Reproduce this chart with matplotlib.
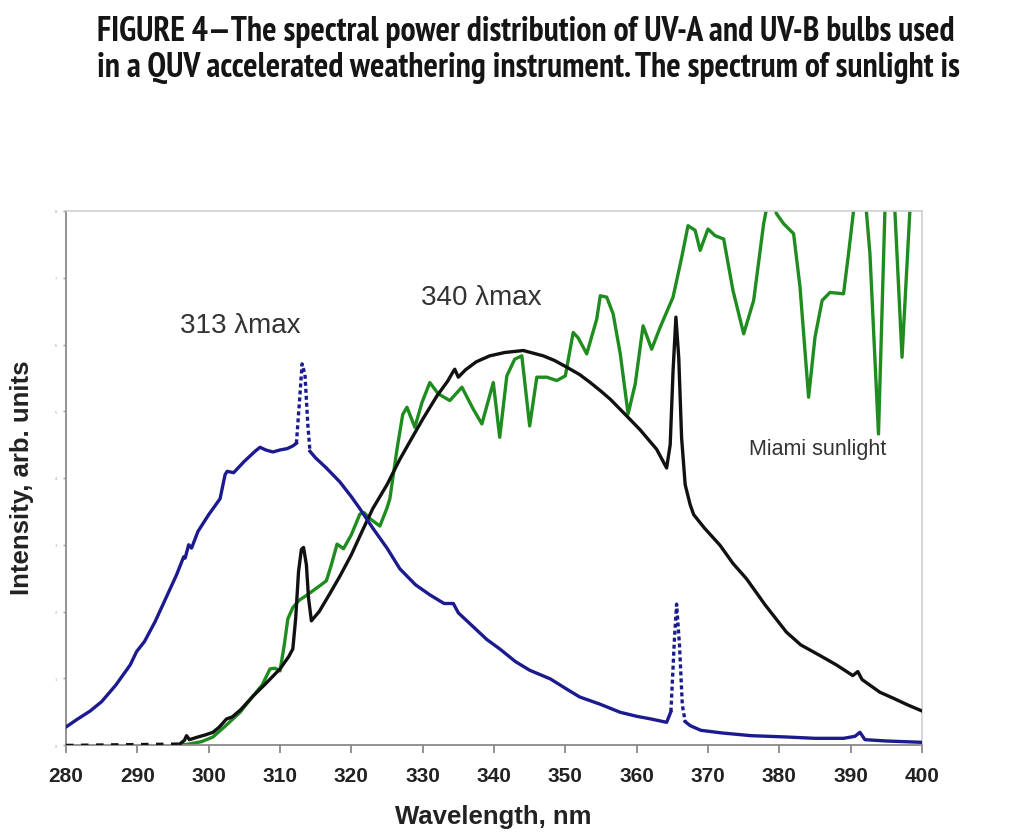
import matplotlib
matplotlib.use('Agg')
import matplotlib.pyplot as plt
from matplotlib import font_manager
from matplotlib.font_manager import FontProperties
import numpy as np

# ---------------- data ----------------
title_line1 = "FIGURE 4\u2014The spectral power distribution of UV-A and UV-B bulbs used"
title_line2 = "in a QUV accelerated weathering instrument. The spectrum of sunlight is"
x_label = "Wavelength, nm"
y_label = "Intensity, arb. units"
x_ticks = [280, 290, 300, 310, 320, 330, 340, 350, 360, 370, 380, 390, 400]
y_ticks = [0, 1, 2, 3, 4, 5, 6, 7, 8]

# UV-B bulb (313 lambda max), blue
uvb_wl = [280.0, 281.5, 283.4, 285.0, 287.0, 289.0, 289.9, 291.0, 292.5, 294.0, 295.5, 296.5,
          296.7, 297.2, 297.6, 298.5, 300.0, 301.6, 302.3, 302.6, 303.5, 305.0, 306.5, 307.2,
          308.0, 309.0, 310.0, 311.0, 311.8, 312.3, 312.7, 313.1, 313.5, 313.9, 314.2, 315.0,
          316.5, 318.4, 320.0, 321.2, 323.0, 325.0, 326.8, 329.0, 331.0, 333.0, 334.3, 335.0,
          337.0, 339.0, 340.8, 343.0, 345.0, 347.9, 350.0, 352.0, 354.9, 357.7, 360.0, 362.0,
          364.2, 364.8, 365.3, 365.6, 366.0, 366.4, 366.8, 367.5, 369.0, 372.0, 376.0, 381.0,
          385.0, 389.0, 390.6, 391.3, 392.0, 395.0, 400.0]
uvb_val = [0.27, 0.38, 0.51, 0.65, 0.90, 1.20, 1.40, 1.55, 1.85, 2.20, 2.55, 2.82,
           2.80, 3.00, 2.95, 3.20, 3.45, 3.69, 4.05, 4.10, 4.08, 4.25, 4.40, 4.46,
           4.42, 4.39, 4.42, 4.44, 4.48, 4.52, 5.10, 5.71, 5.55, 4.80, 4.40, 4.30,
           4.15, 3.94, 3.72, 3.54, 3.25, 2.95, 2.64, 2.40, 2.25, 2.12, 2.12, 1.98,
           1.78, 1.58, 1.44, 1.25, 1.12, 0.99, 0.85, 0.72, 0.61, 0.49, 0.43, 0.39,
           0.34, 0.50, 1.60, 2.11, 1.50, 0.60, 0.35, 0.29, 0.22, 0.18, 0.14, 0.12,
           0.10, 0.10, 0.13, 0.19, 0.08, 0.06, 0.04]

# UV-A bulb (340 lambda max), black
uva_wl = [280.0, 296.0, 296.6, 296.9, 297.3, 298.5, 299.5, 300.6, 301.5, 302.5, 303.3, 304.5,
          306.2, 308.0, 310.0, 311.2, 311.8, 312.2, 312.6, 313.0, 313.3, 313.7, 314.0, 314.4,
          315.5, 317.0, 318.4, 320.0, 321.5, 323.0, 325.0, 326.8, 328.5, 330.0, 332.0, 333.5,
          334.2, 334.5, 335.0, 336.0, 337.5, 339.4, 341.5, 344.1, 346.9, 348.5, 350.2, 352.0,
          353.5, 355.0, 356.3, 358.6, 360.5, 362.8, 364.2, 364.7, 365.1, 365.5, 365.9, 366.3,
          366.8, 367.5, 368.0, 369.5, 371.7, 373.5, 375.4, 378.0, 381.0, 383.0, 385.7, 388.0,
          390.3, 391.0, 391.6, 394.1, 396.0, 398.0, 400.0]
uva_val = [0.00, 0.02, 0.07, 0.14, 0.08, 0.12, 0.15, 0.19, 0.27, 0.39, 0.42, 0.53,
           0.73, 0.92, 1.14, 1.32, 1.44, 1.90, 2.60, 2.93, 2.96, 2.70, 2.20, 1.86,
           2.00, 2.27, 2.53, 2.85, 3.20, 3.54, 3.90, 4.28, 4.60, 4.88, 5.23, 5.45,
           5.58, 5.63, 5.51, 5.62, 5.74, 5.83, 5.88, 5.91, 5.83, 5.76, 5.66, 5.55,
           5.43, 5.30, 5.18, 4.93, 4.72, 4.43, 4.15, 4.50, 5.60, 6.41, 5.80, 4.60,
           3.90, 3.60, 3.45, 3.25, 2.99, 2.72, 2.49, 2.10, 1.69, 1.50, 1.34, 1.20,
           1.04, 1.10, 0.98, 0.79, 0.70, 0.60, 0.51]

# Miami sunlight, green
sun_wl = [296.0, 297.0, 299.0, 300.6, 302.5, 304.4, 306.2, 307.5, 308.6, 309.3, 310.0, 310.6,
          311.1, 311.8, 312.7, 313.7, 315.5, 316.5, 317.2, 318.0, 318.9, 320.0, 321.2, 321.8,
          322.5, 324.0, 325.0, 325.4, 326.4, 327.2, 327.8, 328.9, 329.9, 331.0, 332.2, 333.8,
          335.5, 337.1, 338.3, 339.9, 340.8, 341.8, 342.9, 343.9, 345.0, 346.0, 347.4, 348.8,
          350.0, 351.1, 351.8, 353.0, 354.4, 354.9, 355.8, 356.7, 357.7, 358.8, 359.8, 360.9,
          362.1, 363.3, 365.1, 366.3, 367.2, 368.2, 368.9, 370.0, 371.0, 372.2, 373.5, 375.0,
          376.4, 377.8, 378.2, 378.8, 379.6, 380.6, 382.0, 382.9, 384.1, 385.0, 386.0, 387.1,
          389.0, 389.7, 390.4, 391.3, 392.2, 392.7, 393.9, 394.8, 395.5, 396.2, 397.2, 398.3,
          399.2, 400.0]
sun_val = [0.00, 0.01, 0.05, 0.12, 0.30, 0.49, 0.73, 0.90, 1.14, 1.15, 1.11, 1.50,
           1.89, 2.06, 2.17, 2.24, 2.38, 2.46, 2.70, 3.01, 2.94, 3.15, 3.46, 3.48,
           3.40, 3.28, 3.55, 3.69, 4.43, 4.95, 5.06, 4.76, 5.13, 5.43, 5.26, 5.16,
           5.36, 5.03, 4.81, 5.43, 4.61, 5.53, 5.78, 5.83, 4.78, 5.51, 5.51, 5.46,
           5.53, 6.18, 6.10, 5.86, 6.38, 6.73, 6.71, 6.46, 5.86, 4.96, 5.41, 6.28,
           5.93, 6.26, 6.71, 7.30, 7.78, 7.71, 7.41, 7.73, 7.63, 7.58, 6.81, 6.16,
           6.66, 7.81, 8.03, 8.30, 7.96, 7.81, 7.66, 6.86, 5.21, 6.11, 6.66, 6.78,
           6.76, 7.36, 8.00, 8.60, 8.00, 7.36, 4.66, 8.00, 8.60, 8.00, 5.81, 8.00,
           8.80, 9.20]

annot_313 = ("313 \u03bbmax", 296.0, 6.19)
annot_340 = ("340 \u03bbmax", 329.7, 6.61)
annot_sun = ("Miami sunlight", 375.8, 4.36)

# ---------------- figure ----------------
W, H = 1024, 837
fig = plt.figure(figsize=(W / 100, H / 100), dpi=100)
fig.patch.set_facecolor('white')

ax = fig.add_axes([66 / W, 1 - 746 / H, (922 - 66) / W, (746 - 212) / H])
ax.set_xlim(280, 400)
ax.set_ylim(0, 8)

BLUE = '#1b1b8f'
GREEN = '#1f8c1f'
BLACK = '#111111'
LW = 2.4

# sunlight
ax.plot(sun_wl, sun_val, color=GREEN, lw=LW, solid_joinstyle='round', solid_capstyle='round', zorder=2)

# UV-A bulb: dashed near zero at the start, then solid
uva_wl_a = np.array(uva_wl)
uva_val_a = np.array(uva_val)
m0 = uva_wl_a <= 296.0
ax.plot(uva_wl_a[m0], uva_val_a[m0], color=BLACK, lw=1.8, ls=(0, (3, 3)), zorder=3)
m1 = uva_wl_a >= 296.0
ax.plot(uva_wl_a[m1], uva_val_a[m1], color=BLACK, lw=LW, solid_joinstyle='round', zorder=3)

# UV-B bulb: solid with dotted steep peaks
uvb_wl_a = np.array(uvb_wl)
uvb_val_a = np.array(uvb_val)
peaks = [(312.3, 314.2), (364.8, 366.8)]
edges = [280.0]
for lo, hi in peaks:
    edges += [lo, hi]
edges.append(400.0)
for i in range(len(edges) - 1):
    lo, hi = edges[i], edges[i + 1]
    m = (uvb_wl_a >= lo) & (uvb_wl_a <= hi)
    dashed = (i % 2 == 1)
    ax.plot(uvb_wl_a[m], uvb_val_a[m], color=BLUE, lw=LW,
            ls=(0, (1.2, 0.9)) if dashed else '-', solid_joinstyle='round', zorder=4)

# annotations
afont = dict(family=['Liberation Sans', 'DejaVu Sans'], color='#333333')
ax.text(annot_313[1], annot_313[2], annot_313[0], fontsize=20, va='baseline', ha='left', **afont)
ax.text(annot_340[1], annot_340[2], annot_340[0], fontsize=20, va='baseline', ha='left', **afont)
ax.text(annot_sun[1], annot_sun[2], annot_sun[0], fontsize=15.5, va='baseline', ha='left', **afont)

# spines and ticks
for s in ['left', 'bottom']:
    ax.spines[s].set_color('#8a8a8a')
    ax.spines[s].set_linewidth(1.3)
for s in ['top', 'right']:
    ax.spines[s].set_color('#cfcfcf')
    ax.spines[s].set_linewidth(1.2)

ax.set_xticks(x_ticks)
ax.set_xticklabels([str(t) for t in x_ticks], fontsize=15, fontweight='bold',
                   family=['Liberation Sans', 'DejaVu Sans'], color='#222222')
ax.tick_params(axis='x', direction='out', length=6, width=1.3, color='#8a8a8a', pad=9)
ax.set_yticks(y_ticks)
ax.set_yticklabels([str(t) for t in y_ticks], fontsize=2.5, color='#9a9a9a')
ax.tick_params(axis='y', direction='out', length=2.5, width=1.0, color='#a0a0a0', pad=4)

fig.text(493.5 / W, 1 - 817 / H, x_label, fontsize=18.5, fontweight='bold',
         family=['Liberation Sans', 'DejaVu Sans'], color='#222222', ha='center', va='center')
fig.text(22 / W, 1 - 477.5 / H, y_label, fontsize=18.5, fontweight='bold', rotation=90,
         family=['Liberation Sans', 'DejaVu Sans'], color='#222222', ha='center', va='center')

# ---------------- title (condensed bold) ----------------
cand = []
for f in font_manager.fontManager.ttflist:
    st = str(f.stretch).lower()
    fn = f.fname.lower()
    is_narrow = ('narrow' in st or 'Narrow' in f.name or 'narrow' in fn)
    is_cond = ('condensed' in st or 'Condensed' in f.name or 'condensed' in fn)
    if not (is_narrow or is_cond):
        continue
    if 'italic' in f.style.lower() or 'oblique' in f.style.lower() or 'oblique' in fn or 'italic' in fn:
        continue
    w = f.weight if isinstance(f.weight, int) else (700 if 'bold' in str(f.weight).lower() else 400)
    cand.append((0 if is_narrow else 1, abs(w - 700), f.fname))
cand.sort()
if cand:
    tprops = dict(fontproperties=FontProperties(fname=cand[0][2]))
else:
    tprops = dict(family=['Roboto', 'DejaVu Sans'], fontweight='bold')

t1 = fig.text(97 / W, 1 - 41 / H, title_line1, fontsize=24, va='baseline', ha='left',
              color='#151515', **tprops)
t2 = fig.text(97 / W, 1 - 77 / H, title_line2, fontsize=24, va='baseline', ha='left',
              color='#151515', **tprops)
fig.canvas.draw()
r = fig.canvas.get_renderer()
w1 = t1.get_window_extent(r).width
scale = (955 - 97) / w1
t1.set_fontsize(24 * scale)
t2.set_fontsize(24 * scale)

fig.savefig('out.png', dpi=100, facecolor='white')
